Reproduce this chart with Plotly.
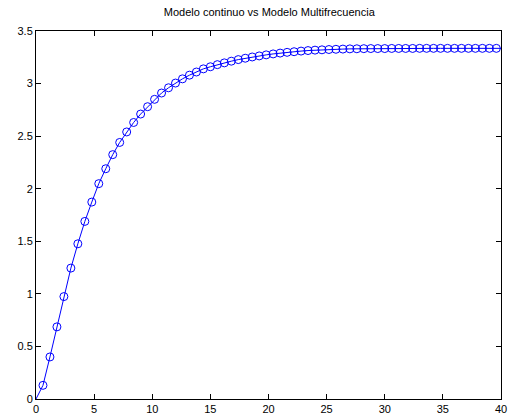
import plotly.graph_objects as go

# Sample times of the multifrequency model (T = 0.6)
t_multi = [0.6 * k for k in range(1, 67)]
y_multi = [0.13, 0.40, 0.686, 0.974, 1.245, 1.476, 1.689, 1.873, 2.048, 2.19,
           2.324, 2.44, 2.54, 2.63, 2.71, 2.78, 2.85, 2.91, 2.96, 3.005,
           3.045, 3.08, 3.11, 3.14, 3.16, 3.18, 3.197, 3.213, 3.228, 3.241,
           3.253, 3.263, 3.273, 3.282, 3.29, 3.297, 3.303, 3.309, 3.314, 3.318,
           3.321, 3.324, 3.326, 3.328, 3.330, 3.331, 3.332, 3.333, 3.333, 3.333,
           3.334, 3.334, 3.334, 3.334, 3.335, 3.335, 3.335, 3.335, 3.335, 3.335,
           3.335, 3.335, 3.335, 3.335, 3.335, 3.335]

# Continuous model
t_cont = [0.0] + t_multi + [40.0]
y_cont = [0.0] + y_multi + [3.335]

x_ticks = [0, 5, 10, 15, 20, 25, 30, 35, 40]
y_ticks = [0, 0.5, 1, 1.5, 2, 2.5, 3, 3.5]
y_tick_labels = ["0", "0.5", "1", "1.5", "2", "2.5", "3", "3.5"]
title = "Modelo continuo vs Modelo Multifrecuencia"

fig = go.Figure()
fig.add_trace(go.Scatter(x=t_cont, y=y_cont, mode="lines",
                         line=dict(color="#0000FF", width=1), showlegend=False))
fig.add_trace(go.Scatter(x=t_multi, y=y_multi, mode="markers",
                         marker=dict(symbol="circle-open", size=8, color="#0000FF",
                                     line=dict(width=1, color="#0000FF")),
                         showlegend=False))

axis_common = dict(showgrid=False, zeroline=False, showline=True, linecolor="black",
                   linewidth=1, mirror="ticks", ticks="inside", ticklen=5,
                   ticklabeloverflow="allow",
                   tickcolor="black", tickfont=dict(family="Liberation Sans, Arial", size=11, color="black"))

fig.update_layout(
    width=511, height=419,
    margin=dict(l=36, r=4, t=31, b=17),
    paper_bgcolor="white", plot_bgcolor="white",
    title=dict(text=title, x=0.527, xanchor="center", y=1 - 12 / 419, yanchor="middle",
               font=dict(family="Liberation Sans, Arial", size=11, color="black")),
    xaxis=dict(range=[0, 40], tickvals=x_ticks, ticktext=[str(v) for v in x_ticks], **axis_common),
    yaxis=dict(range=[0, 3.5], tickvals=y_ticks, ticktext=y_tick_labels, **axis_common),
)

fig.write_html("out.html")
